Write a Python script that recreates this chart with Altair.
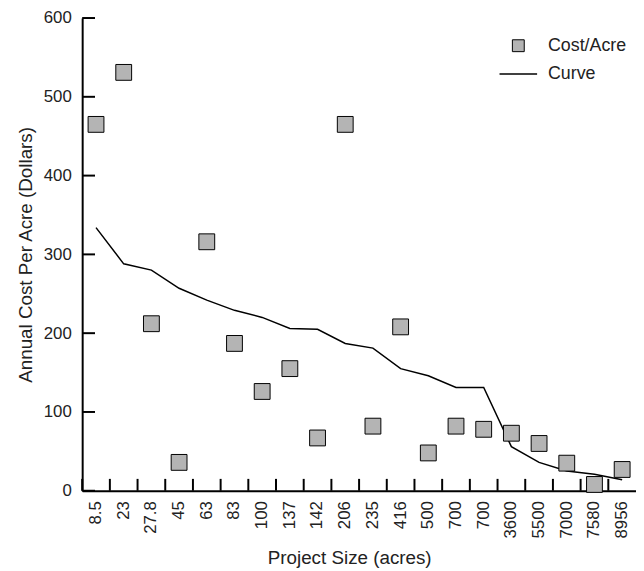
import altair as alt
import pandas as pd

# ---- data ----
sizes = ["8.5", "23", "27.8", "45", "63", "83", "100", "137", "142", "206",
         "235", "416", "500", "700", "700", "3600", "5500", "7000", "7580", "8956"]
cost = [465, 531, 212, 36, 316, 187, 126, 155, 67, 465,
        82, 208, 48, 82, 78, 73, 60, 35, 8, 27]
curve = [334, 288, 280, 257, 242, 229, 220, 206, 205, 187,
         181, 155, 146, 131, 131, 56, 36, 25, 21, 14]
y_ticks = [0, 100, 200, 300, 400, 500, 600]

keys = [f"{s}#{i}" for i, s in enumerate(sizes)]
df = pd.DataFrame({"key": keys, "cost": cost, "curve": curve,
                   "s1": "Cost/Acre", "s2": "Curve"})
tick_df = pd.DataFrame({"v": y_ticks})

W, H = 560, 478
FONT = "Liberation Sans"
FS = 17
TFS = 19
LFS = 18
TXT = "#222222"

xscale = alt.Scale(type="band", domain=keys, paddingInner=0, paddingOuter=0)
yscale = alt.Scale(domain=[0, 600], nice=False, zero=True)

x_axis = alt.Axis(title="Project Size (acres)", labelAngle=270,
                  labelExpr="split(datum.value, '#')[0]",
                  ticks=False, tickSize=0, labelPadding=10, grid=False,
                  domainColor="black", domainWidth=2,
                  labelFont=FONT, titleFont=FONT, labelFontSize=FS, titleFontSize=TFS,
                  titleFontWeight="normal", labelColor=TXT, titleColor=TXT,
                  titlePadding=11, titleX=270)
y_axis = alt.Axis(title="Annual Cost Per Acre (Dollars)", values=y_ticks,
                  ticks=False, tickSize=0, labelPadding=11, grid=False,
                  domainColor="black", domainWidth=2,
                  labelFont=FONT, titleFont=FONT, labelFontSize=FS, titleFontSize=TFS,
                  titleFontWeight="normal", labelColor=TXT, titleColor=TXT,
                  titlePadding=8)

ytick = alt.Chart(tick_df).mark_rule(color="black", strokeWidth=2).encode(
    y=alt.Y("v:Q", scale=yscale, axis=y_axis),
    x=alt.value(0), x2=alt.value(13))

xtick = alt.Chart(df).mark_rule(color="black", strokeWidth=2).encode(
    x=alt.X("key:N", scale=xscale, axis=x_axis, bandPosition=0),
    y=alt.value(H), y2=alt.value(H - 12))

line = alt.Chart(df).mark_line(strokeWidth=1.5).encode(
    x=alt.X("key:N", scale=xscale, axis=x_axis),
    y=alt.Y("curve:Q", scale=yscale, axis=y_axis),
    stroke=alt.Stroke("s2:N", scale=alt.Scale(domain=["Curve"], range=["black"]),
                      legend=alt.Legend(title=None, orient="none", legendX=421, legendY=36.5,
                                        symbolType="stroke", symbolSize=1444,
                                        symbolStrokeColor="black", symbolStrokeWidth=1.5,
                                        labelFont=FONT, labelFontSize=LFS, labelColor=TXT,
                                        labelOffset=10, padding=0)))

points = alt.Chart(df).mark_square(size=256, stroke="black", strokeWidth=1, opacity=1).encode(
    x=alt.X("key:N", scale=xscale, axis=x_axis),
    y=alt.Y("cost:Q", scale=yscale, axis=y_axis),
    fill=alt.Fill("s1:N", scale=alt.Scale(domain=["Cost/Acre"], range=["#b4b4b4"]),
                  legend=alt.Legend(title=None, orient="none", legendX=432, legendY=19,
                                    symbolType="square", symbolSize=144,
                                    symbolStrokeColor="black", symbolStrokeWidth=1,
                                    labelFont=FONT, labelFontSize=LFS, labelColor=TXT,
                                    labelOffset=21, padding=0)))

chart = alt.layer(ytick, xtick, line, points).properties(
    width=W, height=H,
    padding={"left": 75, "top": 7, "right": 0, "bottom": 77},
    autosize=alt.AutoSizeParams(type="none"),
).configure_view(stroke=None)

chart.save("out.html", embed_options={"renderer": "svg", "actions": False})
